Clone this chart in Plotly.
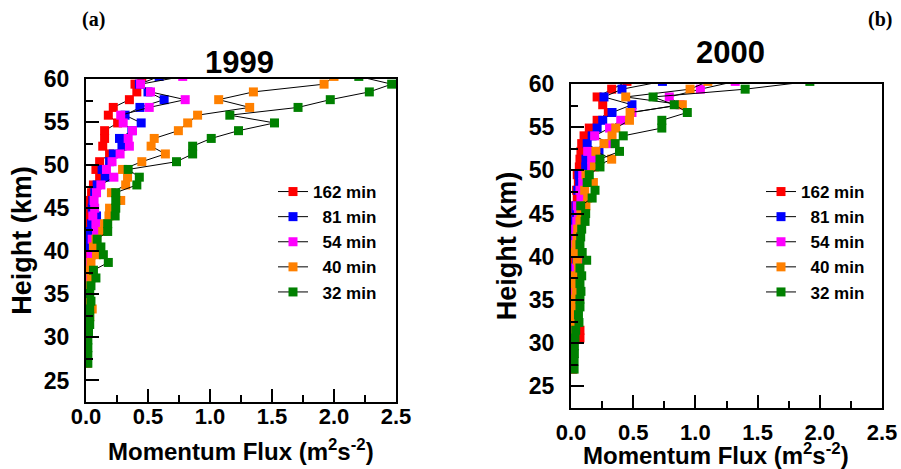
import plotly.graph_objects as go

W, H = 901, 469

# heights (km), top to bottom
heights = [60.3, 59.4, 58.5, 57.6, 56.7, 55.8, 54.9, 54.0, 53.1, 52.2, 51.3, 50.4,
           49.5, 48.6, 47.7, 46.8, 45.9, 45.0, 44.1, 43.2, 42.3, 41.4, 40.5, 39.6,
           38.7, 37.8, 36.9, 36.0, 35.1, 34.2, 33.3, 32.4, 31.5, 30.6, 29.7, 28.8,
           27.9, 27.0]

series_names = ["162 min", "\u00a0\u00a081 min", "\u00a0\u00a054 min", "\u00a0\u00a040 min", "\u00a0\u00a032 min"]
series_colors = ["#ff0000", "#0000ff", "#ff00ff", "#ff8000", "#008000"]

# 1999 momentum flux (m^2 s^-2), same order as heights
flux1999_162 = [0.45, 0.395, 0.41, 0.35, 0.22, 0.18, 0.255, 0.15, 0.15, 0.135, 0.19, 0.11,
                0.08, 0.11, 0.06, 0.045, 0.035, 0.03, 0.025, 0.03, 0.04, 0.02, 0.03, 0.02,
                0.015, 0.01, 0.01, 0.005, 0.005, 0.01, 0.005, 0.01, 0.005, 0.005, 0.01, 0.005,
                0.005, 0.005]
flux1999_81 = [0.59, 0.43, 0.50, 0.63, 0.435, 0.315, 0.445, 0.37, 0.27, 0.29, 0.22, 0.19,
               0.13, 0.155, 0.09, 0.07, 0.055, 0.05, 0.085, 0.045, 0.035, 0.03, 0.025, 0.045,
               0.02, 0.005, 0.01, 0.005, 0.01, 0.005, 0.01, 0.005, 0.005, 0.005, 0.005, 0.005,
               0.005, 0.005]
flux1999_54 = [0.78, 0.44, 0.52, 0.80, 0.51, 0.28, 0.30, 0.375, 0.34, 0.35, 0.275, 0.21,
               0.165, 0.225, 0.12, 0.085, 0.065, 0.07, 0.055, 0.08, 0.085, 0.05, 0.06, 0.04,
               0.03, 0.02, 0.005, 0.01, 0.01, 0.01, 0.01, 0.01, 0.005, 0.005, 0.005, 0.005,
               0.005, 0.005]
flux1999_40 = [2.0, 1.92, 1.35, 1.07, 1.32, 0.90, 0.82, 0.745, 0.55, 0.525, 0.64, 0.45,
               0.295, 0.335, 0.32, 0.205, 0.28, 0.19, 0.185, 0.15, 0.135, 0.08, 0.06, 0.085,
               0.04, 0.03, 0.04, 0.025, 0.005, 0.02, 0.05, 0.03, 0.01, 0.01, 0.01, 0.01,
               0.01, 0.01]
flux1999_32 = [2.2, 2.465, 2.285, 1.97, 1.71, 1.16, 1.52, 1.23, 1.01, 0.86, 0.86, 0.73,
               0.34, 0.43, 0.41, 0.24, 0.24, 0.24, 0.235, 0.175, 0.175, 0.09, 0.12, 0.14,
               0.18, 0.06, 0.08, 0.04, 0.03, 0.04, 0.03, 0.03, 0.03, 0.02, 0.015, 0.015,
               0.015, 0.015]

# 2000 momentum flux (m^2 s^-2)
flux2000_162 = [0.45, 0.327, 0.21, 0.255, 0.30, 0.21, 0.147, 0.105, 0.086, 0.08, 0.072, 0.067,
                0.05, 0.059, 0.045, 0.05, 0.03, 0.032, 0.025, 0.02, 0.02, 0.015, 0.015, 0.02,
                0.015, 0.01, 0.01, 0.01, 0.01, 0.01, 0.01, 0.02, 0.072, 0.072, 0.01, 0.01,
                0.01, 0.01]
flux2000_81 = [0.735, 0.41, 0.265, 0.49, 0.33, 0.255, 0.21, 0.17, 0.13, 0.225, 0.12, 0.118,
               0.064, 0.07, 0.054, 0.11, 0.04, 0.04, 0.03, 0.025, 0.025, 0.02, 0.02, 0.045,
               0.02, 0.028, 0.025, 0.02, 0.015, 0.015, 0.01, 0.01, 0.01, 0.01, 0.01, 0.01,
               0.01, 0.01]
flux2000_54 = [1.32, 1.04, 0.79, 0.877, 0.49, 0.40, 0.31, 0.19, 0.31, 0.134, 0.166, 0.166,
               0.094, 0.094, 0.072, 0.08, 0.05, 0.06, 0.046, 0.038, 0.04, 0.035, 0.03, 0.072,
               0.04, 0.046, 0.04, 0.03, 0.02, 0.02, 0.015, 0.015, 0.01, 0.01, 0.01, 0.01,
               0.01, 0.01]
flux2000_40 = [1.10, 0.957, 0.44, 0.895, 0.475, 0.47, 0.36, 0.33, 0.265, 0.20, 0.327, 0.188,
               0.12, 0.18, 0.11, 0.134, 0.12, 0.08, 0.072, 0.054, 0.05, 0.04, 0.032, 0.05,
               0.06, 0.03, 0.035, 0.04, 0.027, 0.027, 0.027, 0.027, 0.02, 0.02, 0.015, 0.015,
               0.015, 0.015]
flux2000_32 = [1.92, 1.40, 0.66, 0.83, 0.935, 0.73, 0.73, 0.42, 0.355, 0.39, 0.233, 0.233,
               0.147, 0.13, 0.193, 0.17, 0.078, 0.118, 0.113, 0.086, 0.078, 0.072, 0.09, 0.126,
               0.072, 0.086, 0.072, 0.08, 0.072, 0.072, 0.06, 0.064, 0.038, 0.032, 0.027, 0.027,
               0.025, 0.025]

x_ticks = [0.0, 0.5, 1.0, 1.5, 2.0, 2.5]
y_ticks = [25, 30, 35, 40, 45, 50, 55, 60]

panels = [
    ("1999", [flux1999_162, flux1999_81, flux1999_54, flux1999_40, flux1999_32], "x", "y", "legend"),
    ("2000", [flux2000_162, flux2000_81, flux2000_54, flux2000_40, flux2000_32], "x2", "y2", "legend2"),
]

FONT = "Liberation Sans, Arial, Helvetica, sans-serif"
SERIF = "Liberation Serif, Times New Roman, serif"

fig = go.Figure()
for title, data, xa, ya, lg in panels:
    for name, col, vals in zip(series_names, series_colors, data):
        fig.add_trace(go.Scatter(
            x=vals, y=heights, mode="lines+markers", name=name,
            xaxis=xa, yaxis=ya, legend=lg,
            line=dict(color="black", width=1),
            marker=dict(symbol="square", size=9, color=col, line=dict(width=0)),
        ))

def px_x(p):
    return p / W

def px_y(p):
    return 1 - p / H

def xaxis_cfg(x0, x1, yname, standoff):
    return dict(
        domain=[px_x(x0), px_x(x1)], anchor=yname, range=[0, 2.5], automargin=False,
        tickvals=x_ticks, tickformat=".1f", ticks="inside", ticklen=13, tickwidth=2,
        tickcolor="black",
        minor=dict(dtick=0.25, tick0=0, ticks="inside", ticklen=7, tickwidth=2, tickcolor="black"),
        showline=True, linewidth=2, linecolor="black", mirror=True,
        showgrid=False, zeroline=False, ticklabelstandoff=standoff,
        tickfont=dict(family=FONT, size=22, color="black", weight="bold"),
    )

def yaxis_cfg(y0, y1, xname):
    return dict(
        domain=[px_y(y1), px_y(y0)], anchor=xname, range=[22.5, 60], automargin=False,
        tickvals=y_ticks, ticks="inside", ticklen=13, tickwidth=2, tickcolor="black",
        minor=dict(dtick=2.5, tick0=0, ticks="inside", ticklen=7, tickwidth=2, tickcolor="black"),
        showline=True, linewidth=2, linecolor="black", mirror=True,
        showgrid=False, zeroline=False, ticklabelstandoff=10,
        tickfont=dict(family=FONT, size=23, color="black", weight="bold"),
        title=dict(text="Height (km)", standoff=4,
                   font=dict(family=FONT, size=27, color="black", weight="bold")),
    )

legend_common = dict(
    xanchor="left", yanchor="top", bgcolor="rgba(0,0,0,0)", borderwidth=0,
    font=dict(family=FONT, size=17, color="black", weight="bold"),
    tracegroupgap=0, itemclick=False, itemdoubleclick=False,
)

def label(text, x, y, size, family=FONT):
    return dict(text=text, x=px_x(x), y=px_y(y), xref="paper", yref="paper",
                xanchor="center", yanchor="middle", showarrow=False,
                font=dict(family=family, size=size, color="black", weight="bold"))

xtitle = "Momentum Flux (m<sup>2</sup>s<sup>-2</sup>)"

fig.update_layout(
    width=W, height=H,
    margin=dict(l=0, r=0, t=0, b=0, autoexpand=False),
    paper_bgcolor="white", plot_bgcolor="white",
    font=dict(family=FONT, color="black"),
    showlegend=True,
    xaxis=xaxis_cfg(86, 396, "y", -6),
    yaxis=yaxis_cfg(79, 402, "x"),
    xaxis2=xaxis_cfg(571, 882, "y2", 4),
    yaxis2=yaxis_cfg(84, 408, "x2"),
    legend=dict(x=px_x(273), y=px_y(174), **legend_common),
    legend2=dict(x=px_x(761), y=px_y(174), **legend_common),
    annotations=[
        label("1999", 239, 63, 31),
        label("2000", 730, 53, 31),
        label("(a)", 93, 19, 20, SERIF),
        label("(b)", 880, 20, 20, SERIF),
        label(xtitle, 241, 450, 24),
        label(xtitle, 716, 454, 24),
    ],
)

# remove the browser's default page margin so the 901x469 figure fills the window exactly
fig.write_html("out.html", config={"displayModeBar": False},
               post_script="document.body.style.margin='0';")
